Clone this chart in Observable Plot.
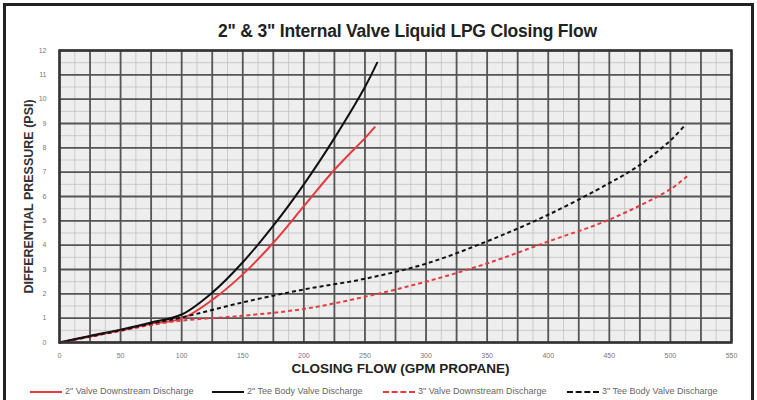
<!DOCTYPE html>
<html><head><meta charset="utf-8">
<script src="https://cdn.jsdelivr.net/npm/d3@7"></script>
<script src="https://cdn.jsdelivr.net/npm/@observablehq/plot@0.6"></script>
<style>
body{margin:0;background:#fff;font-family:"Liberation Sans",Arial,sans-serif;}
#wrap{position:relative;width:757px;height:400px;overflow:hidden;background:#fff;}
#border{position:absolute;left:3px;top:3px;width:745px;height:410px;border:3px solid #222;border-bottom:none;}
#title{position:absolute;top:21px;left:0;width:757px;text-align:center;padding-left:58px;box-sizing:border-box;font-weight:bold;font-size:17.5px;color:#222;letter-spacing:-0.2px;}
#chart{position:absolute;left:0;top:40px;}
.lg{position:absolute;top:386px;font-size:9px;color:#666;white-space:nowrap;line-height:10px;}
.sw{display:inline-block;width:32px;height:0;vertical-align:middle;margin-right:3px;}
</style></head>
<body>
<div id="wrap">
  <div id="border"></div>
  <div id="title">2" &amp; 3" Internal Valve Liquid LPG Closing Flow</div>
  <div id="chart"></div>
  <div id="legend"></div>
</div>
<script>
// ---- data ----
const xTicks = [0, 50, 100, 150, 200, 250, 300, 350, 400, 450, 500, 550];
const yTicks = [0, 1, 2, 3, 4, 5, 6, 7, 8, 9, 10, 11, 12];

const flow2Down = [0, 25, 50, 75, 100, 125, 150, 175, 200, 225, 250, 258];
const dp2Down   = [0, 0.25, 0.5, 0.77, 0.98, 1.75, 2.8, 4.1, 5.6, 7.1, 8.4, 8.85];

const flow2Tee  = [0, 25, 50, 75, 100, 125, 150, 175, 200, 225, 250, 260];
const dp2Tee    = [0, 0.27, 0.53, 0.82, 1.15, 2.05, 3.3, 4.8, 6.5, 8.4, 10.5, 11.5];

const flow3Down = [0, 25, 50, 75, 100, 150, 200, 250, 300, 350, 400, 450, 500, 514];
const dp3Down   = [0, 0.24, 0.48, 0.72, 0.9, 1.1, 1.38, 1.88, 2.5, 3.25, 4.15, 5.05, 6.3, 6.85];

const flow3Tee  = [0, 25, 50, 75, 100, 150, 200, 250, 300, 350, 400, 450, 475, 500, 511];
const dp3Tee    = [0, 0.25, 0.5, 0.78, 1.03, 1.65, 2.18, 2.62, 3.24, 4.16, 5.25, 6.55, 7.3, 8.3, 8.88];

const seriesNames = [
  '2" Valve Downstream Discharge',
  '2" Tee Body Valve Discharge',
  '3" Valve Downstream Discharge',
  '3" Tee Body Valve Discharge'
];
const seriesColors = ["#e53b3f", "#111111", "#e53b3f", "#111111"];
const seriesDash = [null, null, "4,3", "4,3"];

const xLabel = "CLOSING FLOW (GPM PROPANE)";
const yLabel = "DIFFERENTIAL PRESSURE (PSI)";

// ---- grid helpers ----
const gridXMajor = d3.range(0, 551, 25);
const gridXMinor = d3.range(12.5, 550, 25);
const gridYMajor = d3.range(0, 12.01, 1);
const gridYMinor = d3.range(0.5, 12, 1);

const series = [
  [flow2Down, dp2Down], [flow2Tee, dp2Tee], [flow3Down, dp3Down], [flow3Tee, dp3Tee]
];

const chart = Plot.plot({
  width: 757,
  height: 340,
  marginTop: 10,
  marginBottom: 38,
  marginLeft: 59,
  marginRight: 26,
  style: {background: "transparent", fontFamily: "Liberation Sans, Arial, sans-serif"},
  x: {domain: [0, 550]},
  y: {domain: [0, 12]},
  marks: [
    Plot.frame({fill: "#eeeeee", stroke: null}),
    Plot.ruleX(gridXMinor, {stroke: "#bbb", strokeWidth: 0.7}),
    Plot.ruleY(gridYMinor, {stroke: "#bbb", strokeWidth: 0.7}),
    Plot.ruleX(gridXMajor, {stroke: "#555", strokeWidth: 1.8}),
    Plot.ruleY(gridYMajor, {stroke: "#555", strokeWidth: 1.8}),
    ...series.map(([xs, ys], i) => Plot.line(ys, {
      x: xs, y: ys, curve: "catmull-rom",
      stroke: seriesColors[i], strokeWidth: 2,
      strokeDasharray: seriesDash[i], strokeLinecap: seriesDash[i] ? "butt" : "round"
    })),
    Plot.frame({stroke: "#333", strokeWidth: 2.5}),
    Plot.axisX({ticks: xTicks, tickSize: 0, tickPadding: 11, fontSize: 7, fill: "#777", label: null}),
    Plot.axisY({ticks: yTicks, tickSize: 0, tickPadding: 13, fontSize: 7, fill: "#777", label: null}),
    Plot.text([xLabel], {frameAnchor: "bottom", dy: 30, dx: 5, fontSize: 13.5, fontWeight: "bold", fill: "#222"}),
    Plot.text([yLabel], {frameAnchor: "left", textAnchor: "middle", dx: -31, rotate: -90, fontSize: 12.5, fontWeight: "bold", fill: "#333"})
  ]
});
document.getElementById("chart").appendChild(chart);

// ---- legend ----
const legendX = [30, 212, 383, 567];
const legend = document.getElementById("legend");
seriesNames.forEach((name, i) => {
  const d = document.createElement("div");
  d.className = "lg";
  d.style.left = legendX[i] + "px";
  const sw = document.createElement("span");
  sw.className = "sw";
  sw.style.borderTop = `2px ${seriesDash[i] ? "dashed" : "solid"} ${seriesColors[i]}`;
  d.appendChild(sw);
  d.appendChild(document.createTextNode(name));
  legend.appendChild(d);
});
</script>
</body></html>
